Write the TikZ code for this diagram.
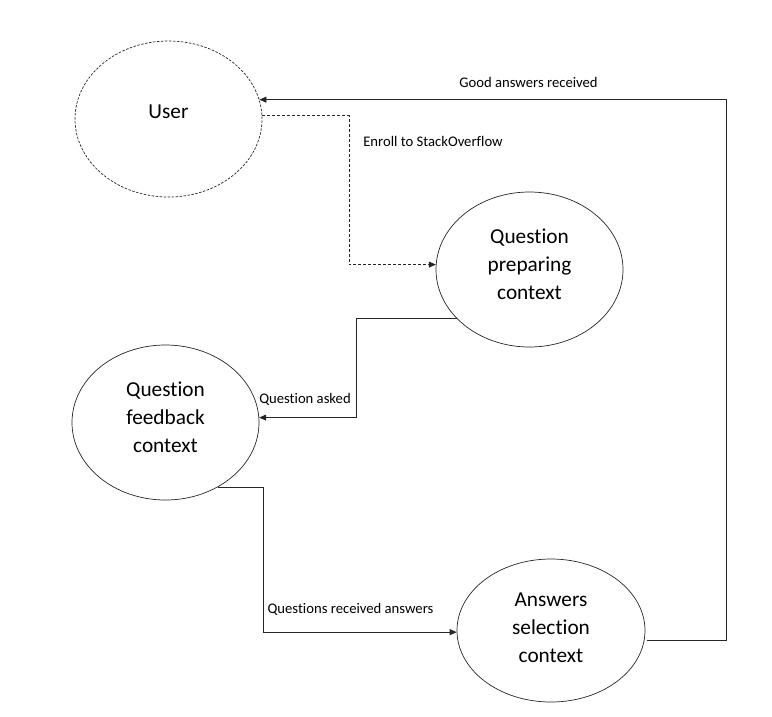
\documentclass[tikz,border=0pt]{standalone}
\usepackage{fontspec}
\setmainfont{Carlito}[Ligatures={NoCommon,NoRequired,NoContextual,NoRare}]
\usetikzlibrary{shapes.geometric,arrows.meta,calc}
\begin{document}
\begin{tikzpicture}[x=1pt,y=-1pt,
  ctx/.style={ellipse,draw=black!85,line width=0.7pt,inner sep=0pt},
  ctxtext/.style={align=center,inner sep=0pt,font=\fontsize{21.3}{28}\selectfont},
  lbl/.style={inner sep=0pt,font=\fontsize{14.67}{17}\selectfont},
  conn/.style={draw=black!85,line width=0.8pt,-{Triangle[length=7pt,width=6pt]}},
  dconn/.style={conn,dash pattern=on 3pt off 2pt}]
\useasboundingbox (0,0) rectangle (772,716);
\fill[white] (0,0) rectangle (772,716);

% ellipses
\node[ctx,dash pattern=on 2.5pt off 1.5pt,minimum width=187pt,minimum height=156pt] (user) at (168.5,119) {};
\node[ctx,minimum width=187pt,minimum height=155pt] (qp) at (529.5,269.5) {};
\node[ctx,minimum width=187pt,minimum height=155pt] (fb) at (165.5,422.5) {};
\node[ctx,minimum width=188pt,minimum height=143pt] (ans) at (551,630.5) {};

% ellipse texts
\node[ctxtext] (usert) at ([yshift=7pt]user.center) {User};
\node[ctxtext] (qpt) at ([yshift=5.5pt]qp.center) {Question\\preparing\\context};
\node[ctxtext] (fbt) at ([yshift=5.5pt]fb.center) {Question\\feedback\\context};
\node[ctxtext] (anst) at ([yshift=3pt]ans.center) {Answers\\selection\\context};

% helper coordinates (x positions of the vertical runs)
\coordinate (xenroll) at (349,0);
\coordinate (xasked) at (356,0);
\coordinate (xrecv) at (263,0);
\coordinate (xgood) at (726,0);

% connectors
\draw[dconn] (user.2) -- (user.2 -| xenroll) |- (qp.177);
\draw[conn] (qp.214) -- (qp.214 -| xasked) |- (fb.3);
\draw[conn] (fb.-51) -- (fb.-51 -| xrecv) |- (ans.181);
\draw[conn] ([xshift=3pt]ans.-6) -| (xgood |- user.12.5) -- (user.12.5);

% labels
\node[lbl] (lgood) at (528.5,82) {Good answers received};
\node[lbl] (lenroll) at (433,141) {Enroll to StackOverflow};
\node[lbl] (lasked) at (305,399) {Question asked};
\node[lbl] (lrecv) at (350.5,609) {Questions received answers};
\end{tikzpicture}
\end{document}
